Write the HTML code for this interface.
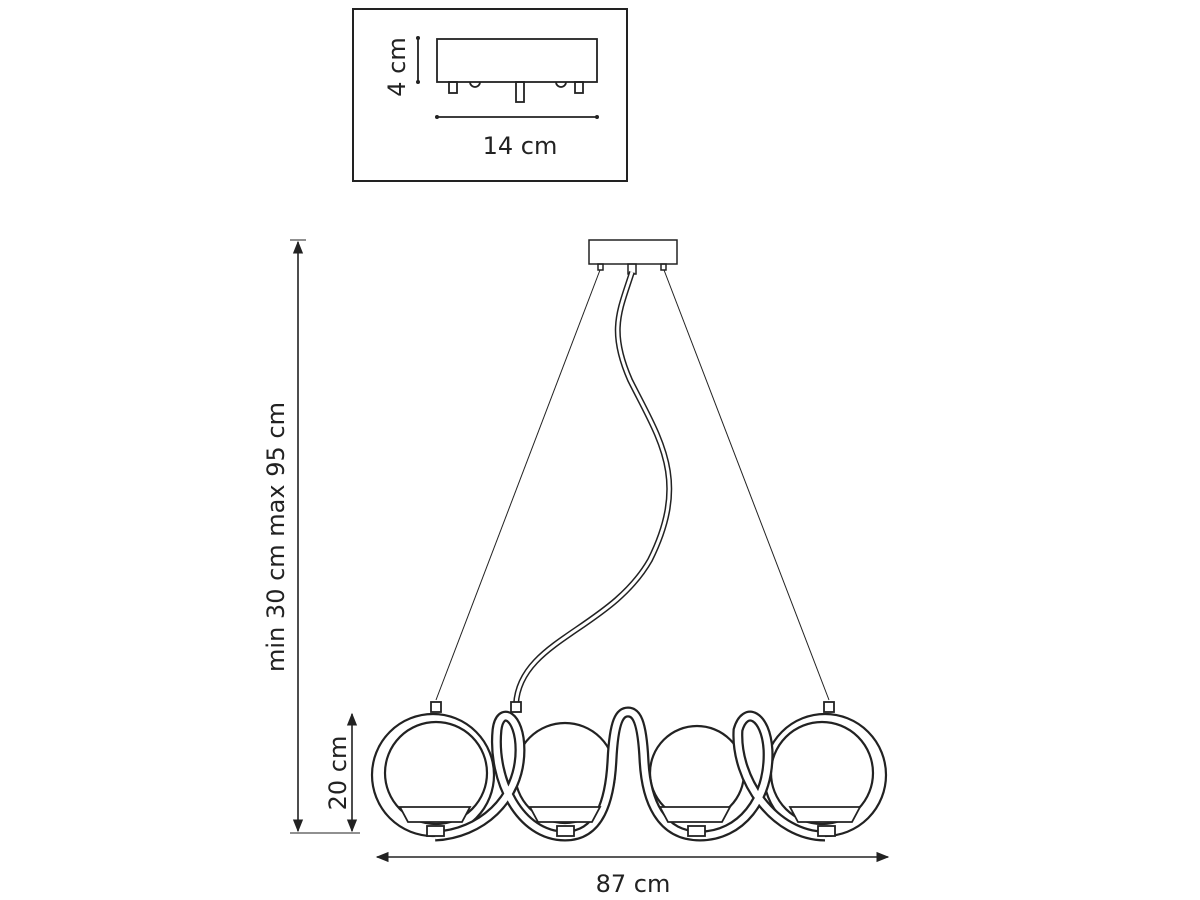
<!DOCTYPE html>
<html><head><style>body{margin:0;background:#fff}svg{display:block}text{font-family:"DejaVu Sans","Liberation Sans",sans-serif;fill:#222}</style></head>
<body>
<svg width="1200" height="900" viewBox="0 0 1200 900" xmlns="http://www.w3.org/2000/svg">
<defs><marker id="a" viewBox="0 0 10 10" refX="9" refY="5" markerWidth="8" markerHeight="8" orient="auto-start-reverse"><path d="M0 1L10 5L0 9z" fill="#222"/></marker></defs>
<g fill="none" stroke="#222" stroke-width="1.8">
<rect x="353" y="9" width="274" height="172" stroke-width="2"/>
<rect x="437" y="39" width="160" height="43"/>
<rect x="449" y="82" width="8" height="11"/><rect x="516" y="82" width="8" height="20"/><rect x="575" y="82" width="8" height="11"/>
<path d="M470 82a5 5 0 0 0 10 0M556 82a5 5 0 0 0 10 0"/>
<line x1="418" y1="38" x2="418" y2="82"/><line x1="437" y1="117" x2="597" y2="117"/>
</g>
<g fill="#222"><circle cx="418" cy="38" r="2"/><circle cx="418" cy="82" r="2"/><circle cx="437" cy="117" r="2"/><circle cx="597" cy="117" r="2"/></g>
<text x="520" y="154" font-size="24" text-anchor="middle">14 cm</text>
<text transform="translate(405,67) rotate(-90)" font-size="24" text-anchor="middle">4 cm</text>
<g fill="none" stroke="#222" stroke-width="1.5">
<rect x="589" y="240" width="88" height="24"/>
<rect x="598" y="264" width="5" height="6"/><rect x="628" y="264" width="8" height="10"/><rect x="661" y="264" width="5" height="6"/>
<line x1="600" y1="270" x2="436" y2="700" stroke-width="1"/><line x1="664" y1="270" x2="829" y2="700" stroke-width="1"/>
</g>
<path d="M632 272C620 310 608 330 630 380C660 440 690 480 650 560C610 630 520 640 516 704" fill="none" stroke="#222" stroke-width="6"/>
<path d="M632 272C620 310 608 330 630 380C660 440 690 480 650 560C610 630 520 640 516 704" fill="none" stroke="#fff" stroke-width="3"/>
<g fill="none" stroke="#222" stroke-width="1.6">
<line x1="298" y1="242" x2="298" y2="831" marker-start="url(#a)" marker-end="url(#a)"/>
<line x1="352" y1="714" x2="352" y2="831" marker-start="url(#a)" marker-end="url(#a)"/>
<line x1="377" y1="857" x2="888" y2="857" marker-start="url(#a)" marker-end="url(#a)"/>
<line x1="290" y1="240" x2="306" y2="240" stroke-width="1"/><line x1="290" y1="833" x2="360" y2="833" stroke-width="1"/>
</g>
<text transform="translate(284,537) rotate(-90)" font-size="24" text-anchor="middle">min 30 cm max 95 cm</text>
<text transform="translate(346,773) rotate(-90)" font-size="24" text-anchor="middle">20 cm</text>
<text x="633" y="892" font-size="24" text-anchor="middle">87 cm</text>
<g fill="#fff" stroke="#222" stroke-width="2.2">
<circle cx="433" cy="775" r="61"/><circle cx="436" cy="773" r="51"/>
<circle cx="825" cy="775" r="61"/><circle cx="822" cy="773" r="51"/>
<circle cx="565" cy="773" r="50"/><circle cx="697" cy="773" r="47"/>
</g>
<path d="M435 836C480 834 520 800 520 750C520 715 500 705 497 730C492 780 520 836 565 836C600 836 610 800 612 760C614 720 620 712 628 712C636 712 642 720 644 760C646 800 660 836 700 836C740 836 770 800 768 750C766 715 745 705 738 730C735 780 775 836 825 836" fill="none" stroke="#222" stroke-width="11"/>
<path d="M435 836C480 834 520 800 520 750C520 715 500 705 497 730C492 780 520 836 565 836C600 836 610 800 612 760C614 720 620 712 628 712C636 712 642 720 644 760C646 800 660 836 700 836C740 836 770 800 768 750C766 715 745 705 738 730C735 780 775 836 825 836" fill="none" stroke="#fff" stroke-width="6.5"/>
<g fill="#fff" stroke="#222" stroke-width="1.8">
<path d="M400 807H470L462 822H408z"/><path d="M530 807H600L592 822H538z"/><path d="M660 807H730L722 822H668z"/><path d="M790 807H860L852 822H798z"/>
<rect x="427" y="826" width="17" height="10"/><rect x="557" y="826" width="17" height="10"/><rect x="688" y="826" width="17" height="10"/><rect x="818" y="826" width="17" height="10"/>
<rect x="431" y="702" width="10" height="10"/><rect x="511" y="702" width="10" height="10"/><rect x="824" y="702" width="10" height="10"/>
</g>
</svg>
</body></html>
